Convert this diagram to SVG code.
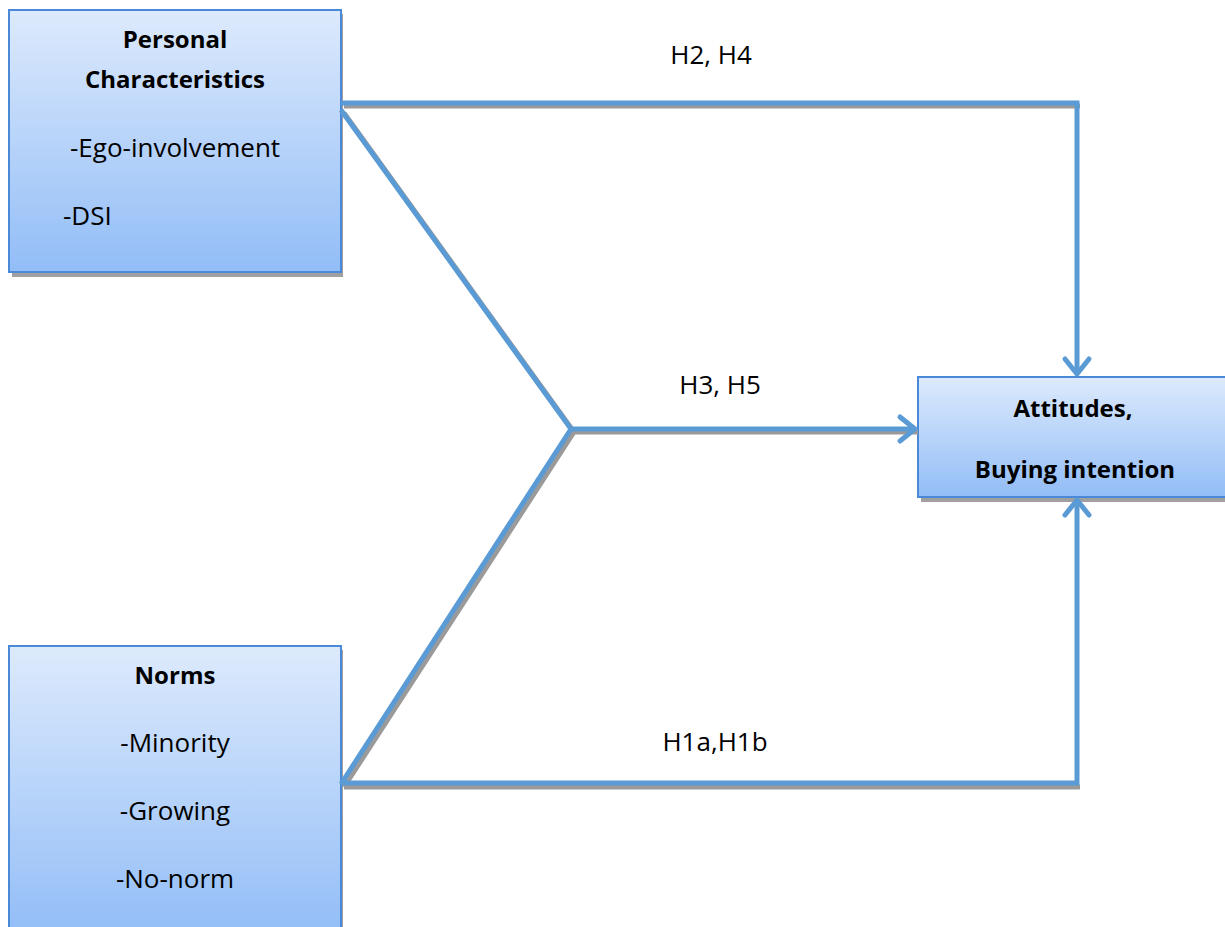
<svg xmlns="http://www.w3.org/2000/svg" width="1225" height="927" viewBox="0 0 1225 927">
<defs>
<linearGradient id="g" x1="0" y1="0" x2="0" y2="1">
<stop offset="0" stop-color="#DDEAFC"/>
<stop offset="1" stop-color="#92BDF7"/>
</linearGradient>
<marker id="arr" markerWidth="10" markerHeight="10" refX="8" refY="5" orient="auto" markerUnits="userSpaceOnUse" viewBox="0 0 10 10" overflow="visible">
<polyline points="-7,-7 8,5 -7,17" fill="none" stroke="#5B9BD5" stroke-width="5" stroke-linecap="round" stroke-linejoin="round"/>
</marker>
</defs>
<style>
.box{fill:url(#g);stroke:#4A89D8;stroke-width:2}
.shd{fill:#a0a0a0}
.t{font-family:"Open Sans","Liberation Sans",sans-serif;font-size:26px;fill:#000}
.b{font-weight:bold;font-size:24px}
.c{stroke:#5B9BD5;stroke-width:5;fill:none;stroke-linejoin:miter}
.s{stroke:#9a9a9a;stroke-width:5;fill:none}
</style>
<rect width="1225" height="927" fill="#fff"/>
<g id="personal">
<rect class="shd" x="12" y="14" width="331" height="263"/>
<rect class="box" x="9" y="10" width="332" height="262"/>
<text class="t b" x="175" y="48" text-anchor="middle">Personal</text>
<text class="t b" x="175" y="88" text-anchor="middle">Characteristics</text>
<text class="t" x="70" y="157">-Ego-involvement</text>
<text class="t" x="63" y="225">-DSI</text>
</g>
<g id="norms">
<rect class="shd" x="12" y="650" width="331" height="280"/>
<rect class="box" x="9" y="646" width="332" height="290"/>
<text class="t b" x="175" y="684" text-anchor="middle">Norms</text>
<text class="t" x="175" y="752" text-anchor="middle">-Minority</text>
<text class="t" x="175" y="820" text-anchor="middle">-Growing</text>
<text class="t" x="175" y="888" text-anchor="middle">-No-norm</text>
</g>
<g id="attitudes">
<rect class="shd" x="921" y="381" width="310" height="121"/>
<rect class="box" x="918" y="377" width="312" height="120"/>
<text class="t b" x="1073" y="417" text-anchor="middle">Attitudes,</text>
<text class="t b" x="1075" y="478" text-anchor="middle">Buying intention</text>
</g>
<g id="connectors">
<polyline class="s" points="344,106 1080,106"/>
<polyline class="s" points="344,113 574,432 918,432"/>
<polyline class="s" points="344,787 574,432"/>
<polyline class="s" points="344,787 1080,787"/>
<polyline class="c" points="341,103 1077,103 1077,374" marker-end="url(#arr)"/>
<polyline class="c" points="341,110 571,429 915,429" marker-end="url(#arr)"/>
<polyline class="c" points="341,784 571,429"/>
<polyline class="c" points="341,783 1077,783 1077,500" marker-end="url(#arr)"/>
</g>
<g id="labels">
<text class="t" x="711" y="64" text-anchor="middle">H2, H4</text>
<text class="t" x="720" y="394" text-anchor="middle">H3, H5</text>
<text class="t" x="715" y="751" text-anchor="middle">H1a,H1b</text>
</g>
</svg>
